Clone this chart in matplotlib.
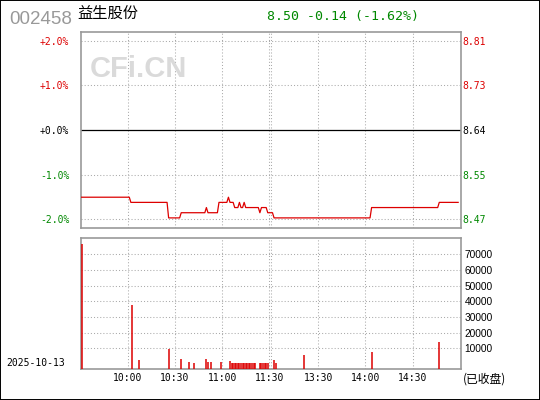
import matplotlib
matplotlib.use("Agg")
import matplotlib.pyplot as plt
from matplotlib.patches import Rectangle

# stock info
code = "002458"
name = "益生股份"
date = "2025-10-13"
status = "(已收盘)"
prev_close = 8.64
last = 8.50

# minute prices as runs: (price, number of minutes)
run_prices = [8.51, 8.50, 8.47, 8.48, 8.49, 8.48, 8.50, 8.51, 8.50, 8.49,
              8.50, 8.49, 8.50, 8.49, 8.48, 8.49, 8.48, 8.47, 8.49, 8.50]
run_lens = [32, 24, 8, 16, 1, 7, 6, 1, 3, 3,
            1, 2, 1, 9, 1, 4, 4, 62, 43, 13]

# volume bars (minute index, volume)
bar_idx = [1, 33, 37, 56, 64, 69, 72, 80, 81, 83, 89,
           95, 96, 97, 98, 99, 100, 101, 102, 103, 104, 105, 106, 107, 108, 109, 110, 111,
           114, 115, 116, 117, 118, 119, 123, 124, 142, 185, 228]
bar_vol = [76600, 37700, 2600, 9800, 3200, 1300, 700, 3200, 1300, 1300, 1300,
           1900, 800, 800, 800, 800, 800, 800, 800, 800, 800, 800, 800, 800, 800, 800, 800, 800,
           800, 800, 800, 800, 800, 800, 2600, 800, 5700, 7700, 14000]

pct_ticks = [-2, -1, 0, 1, 2]
vol_ticks = [10000, 20000, 30000, 40000, 50000, 60000, 70000]
grid_idx = [30, 60, 90, 120, 121, 151, 181, 211]
time_idx = [30, 60, 90, 120, 151, 181, 211]
time_labels = ["10:00", "10:30", "11:00", "11:30", "13:30", "14:00", "14:30"]

RED = "#dd0000"
GREEN = "#008800"
GRAY = "#999999"
MONO = "DejaVu Sans Mono"

prices = []
for p, n in zip(run_prices, run_lens):
    prices += [p] * n
minutes = list(range(len(prices)))
pcts = [(p / prev_close - 1) * 100 for p in prices]

fig = plt.figure(figsize=(5.4, 4.0), dpi=100)
fig.add_artist(Rectangle((0, 0), 1, 1, transform=fig.transFigure, fill=False,
                         edgecolor="black", lw=1.4))

# ---- price panel
ax = fig.add_axes([0.1491, 0.4293, 0.7037, 0.4915])
ax.set_xlim(0, 241.5)
ax.set_ylim(-2.2, 2.2)
for s in ax.spines.values():
    s.set_color(GRAY)
    s.set_linewidth(1.2)
for x in grid_idx:
    ax.axvline(x, color="#aaaaaa", lw=0.75, ls=(0, (1, 2)), zorder=1)
for y in pct_ticks:
    if y == 0:
        ax.axhline(0, color="black", lw=0.9, zorder=2)
    else:
        ax.axhline(y, color="#aaaaaa", lw=0.75, ls=(0, (1, 2)), zorder=1)
ax.plot(minutes, pcts, color=RED, lw=0.9, zorder=3)
ax.set_xticks([])
ax.set_yticks(pct_ticks)
ax.set_yticklabels([("+" if t >= 0 else "-") + "%.1f%%" % abs(t) for t in pct_ticks],
                   family=MONO, fontsize=7)
ax.tick_params(axis="y", length=0, pad=8)
tick_colors = [GREEN, GREEN, "black", RED, RED]
for lab, c in zip(ax.get_yticklabels(), tick_colors):
    lab.set_color(c)

ax2 = ax.twinx()
ax2.set_ylim(ax.get_ylim())
ax2.set_yticks(pct_ticks)
ax2.set_yticklabels(["%.2f" % (prev_close * (1 + t / 100)) for t in pct_ticks],
                    family=MONO, fontsize=7)
ax2.tick_params(axis="y", length=0, pad=1)
for lab, c in zip(ax2.get_yticklabels(), tick_colors):
    lab.set_color(c)
for s in ax2.spines.values():
    s.set_visible(False)

fig.text(90 / 540, 1 - 77.3 / 400, "CFi.CN", family="Liberation Sans", weight="bold",
         fontsize=21, color="#dadada", va="baseline", zorder=0)

# ---- volume panel
bx = fig.add_axes([0.1491, 0.0768, 0.7037, 0.3275])
bx.set_xlim(0, 241.5)
vmin = -3400
bx.set_ylim(vmin, 80200)
for s in bx.spines.values():
    s.set_color(GRAY)
    s.set_linewidth(1.2)
for x in grid_idx:
    bx.axvline(x, color="#aaaaaa", lw=0.75, ls=(0, (1, 2)), zorder=1)
for y in vol_ticks:
    bx.axhline(y, color="#aaaaaa", lw=0.75, ls=(0, (1, 2)), zorder=1)
bx.vlines(bar_idx, vmin, bar_vol, color=RED, lw=1.1, zorder=3)
bx.yaxis.tick_right()
bx.set_yticks(vol_ticks)
bx.set_yticklabels([str(v) for v in vol_ticks], family="Liberation Sans", fontsize=7.3)
bx.tick_params(axis="y", length=0, pad=3)
bx.set_xticks(time_idx)
bx.set_xticklabels(time_labels, family=MONO, fontsize=7)
bx.tick_params(axis="x", length=0, pad=3)

# ---- header texts
fig.text(9 / 540, 1 - 24 / 400, code, family="Liberation Sans", fontsize=13.5,
         color=GRAY, va="baseline")
fig.text(77 / 540, 1 - 13.5 / 400, name, family=["Noto Sans CJK SC", "DejaVu Sans"],
         fontsize=11, color="black", va="center")
chg = last - prev_close
fig.text(267 / 540, 1 - 20 / 400,
         "%.2f %.2f (%.2f%%)" % (last, chg, chg / prev_close * 100),
         family=MONO, fontsize=9.5, color=GREEN, va="baseline")
fig.text(6.5 / 540, 1 - 362.5 / 400, date, family=MONO, fontsize=7, va="center")
fig.text(462.5 / 540, 1 - 379.5 / 400, status, family=["Noto Sans CJK SC", "DejaVu Sans"],
         fontsize=8.5, va="center")

fig.savefig("out.png", dpi=100)
